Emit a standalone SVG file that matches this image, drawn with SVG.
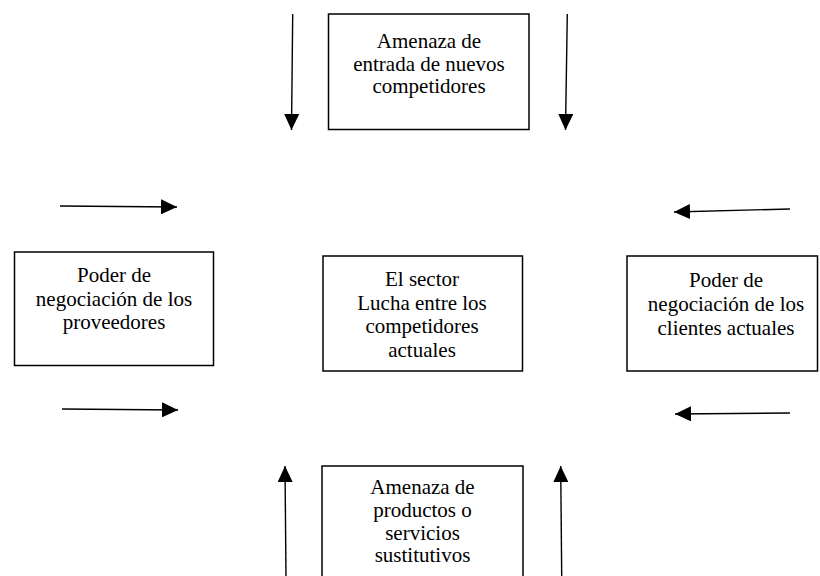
<svg xmlns="http://www.w3.org/2000/svg" width="820" height="576" viewBox="0 0 820 576">
<style>
.box{fill:#fff;stroke:#000;stroke-width:1.5}
.lbl{font-family:"Liberation Serif","Times New Roman",serif;font-size:21px;fill:#000;text-anchor:middle}
.arr{stroke:#000;stroke-width:1.4;fill:none;marker-end:url(#ah)}
</style>
<defs>
<marker id="ah" viewBox="0 0 16 15" refX="16" refY="7.5" markerWidth="16" markerHeight="15" markerUnits="userSpaceOnUse" orient="auto">
<path d="M0,0 L16,7.5 L0,15 z" fill="#000"/>
</marker>
</defs>
<rect width="820" height="576" fill="#fff"/>
<g id="connectors">
<line class="arr" x1="292.7" y1="14" x2="291.5" y2="130"/>
<line class="arr" x1="567.3" y1="14" x2="565.5" y2="130"/>
<line class="arr" x1="60" y1="206" x2="177" y2="207"/>
<line class="arr" x1="62" y1="409" x2="178" y2="410"/>
<line class="arr" x1="790" y1="209" x2="674" y2="212"/>
<line class="arr" x1="790" y1="413" x2="675" y2="414"/>
<line class="arr" x1="286" y1="576" x2="285" y2="466"/>
<line class="arr" x1="561.7" y1="576" x2="560.7" y2="466"/>
</g>
<g id="top">
<rect class="box" x="328.5" y="14" width="200.5" height="115.5"/>
<text class="lbl" x="429" y="48">Amenaza de</text>
<text class="lbl" x="429" y="70.7">entrada de nuevos</text>
<text class="lbl" x="429" y="93.3">competidores</text>
</g>
<g id="left">
<rect class="box" x="14.5" y="252" width="199" height="113.5"/>
<text class="lbl" x="114" y="282">Poder de</text>
<text class="lbl" x="114" y="306">negociación de los</text>
<text class="lbl" x="114" y="329">proveedores</text>
</g>
<g id="center">
<rect class="box" x="323" y="256" width="199.5" height="115"/>
<text class="lbl" x="422" y="286">El sector</text>
<text class="lbl" x="422" y="310">Lucha entre los</text>
<text class="lbl" x="422" y="333">competidores</text>
<text class="lbl" x="422" y="357">actuales</text>
</g>
<g id="right">
<rect class="box" x="627" y="256" width="190.5" height="115"/>
<text class="lbl" x="726" y="287">Poder de</text>
<text class="lbl" x="726" y="311">negociación de los</text>
<text class="lbl" x="726" y="335">clientes actuales</text>
</g>
<g id="bottom">
<rect class="box" x="322" y="466" width="201" height="120"/>
<text class="lbl" x="422.5" y="494">Amenaza de</text>
<text class="lbl" x="422.5" y="517">productos o</text>
<text class="lbl" x="422.5" y="540">servicios</text>
<text class="lbl" x="422.5" y="562">sustitutivos</text>
</g>
</svg>
